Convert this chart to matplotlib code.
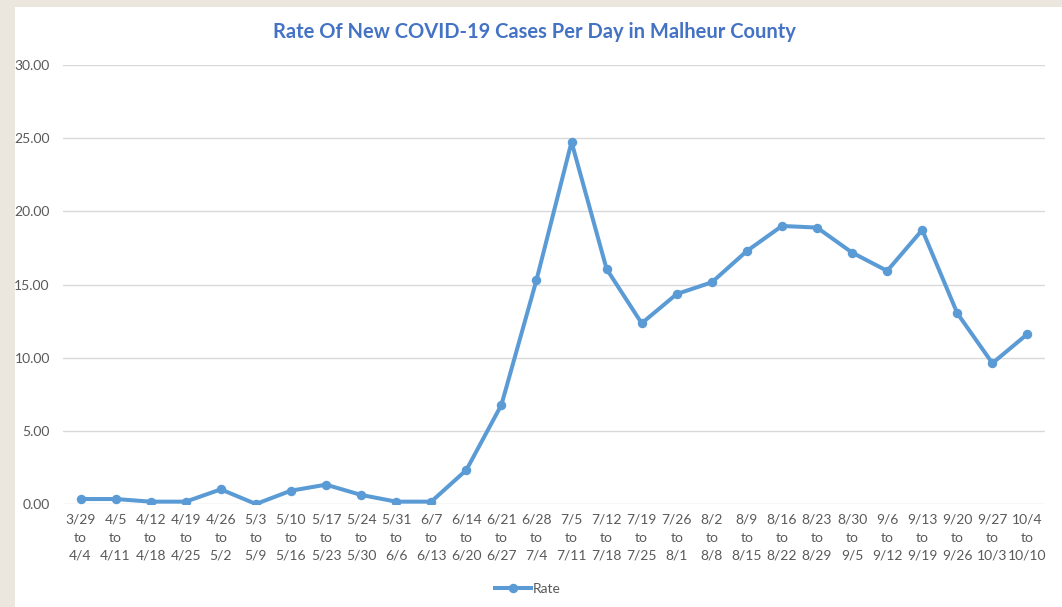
import matplotlib
matplotlib.use("Agg")
from matplotlib import pyplot as plt
from matplotlib.patches import Rectangle

week_start = ["3/29", "4/5", "4/12", "4/19", "4/26", "5/3", "5/10", "5/17", "5/24", "5/31",
              "6/7", "6/14", "6/21", "6/28", "7/5", "7/12", "7/19", "7/26", "8/2", "8/9",
              "8/16", "8/23", "8/30", "9/6", "9/13", "9/20", "9/27", "10/4"]
week_end = ["4/4", "4/11", "4/18", "4/25", "5/2", "5/9", "5/16", "5/23", "5/30", "6/6",
            "6/13", "6/20", "6/27", "7/4", "7/11", "7/18", "7/25", "8/1", "8/8", "8/15",
            "8/22", "8/29", "9/5", "9/12", "9/19", "9/26", "10/3", "10/10"]
rate = [0.34, 0.34, 0.16, 0.16, 1.00, 0.00, 0.91, 1.32, 0.62, 0.16,
        0.16, 2.32, 6.77, 15.30, 24.74, 16.06, 12.35, 14.35, 15.15, 17.29,
        19.00, 18.89, 17.18, 15.93, 18.73, 13.03, 9.62, 11.62]
y_ticks = [0, 5, 10, 15, 20, 25, 30]

LINE_COLOR = "#5B9BD5"
TEXT_GRAY = "#595959"
FONT = ["Lato", "DejaVu Sans"]

plt.rcParams["font.family"] = FONT

fig = plt.figure(figsize=(10.62, 6.07), dpi=100)
fig.patch.set_facecolor("#EBE7DE")

# white chart panel behind everything
bg = fig.add_axes([0, 0, 1, 1], zorder=0)
bg.add_patch(Rectangle((15 / 1062, 0), 1 - 15 / 1062, 1 - 7 / 607,
                       transform=bg.transAxes, facecolor="white", edgecolor="none"))
bg.axis("off")

ax = fig.add_axes([63 / 1062, 103 / 607, 982 / 1062, 439 / 607], zorder=2)
ax.set_facecolor("none")

x = list(range(len(rate)))
ax.plot(x, rate, color=LINE_COLOR, linewidth=2.9, marker="o", markersize=5.8,
        label="Rate", solid_joinstyle="round", zorder=3)

ax.set_xlim(-0.5, len(rate) - 0.5)
ax.set_ylim(0, 30)
ax.set_yticks(y_ticks)
ax.set_yticklabels([f"{v:.2f}" for v in y_ticks])
ax.set_xticks(x)
ax.set_xticklabels([f"{s}\nto\n{e}" for s, e in zip(week_start, week_end)], linespacing=1.6)

ax.grid(axis="y", color="#D9D9D9", linewidth=1)
ax.set_axisbelow(True)
for sp in ax.spines.values():
    sp.set_visible(False)
ax.tick_params(axis="both", length=0, colors=TEXT_GRAY, labelsize=10)
ax.tick_params(axis="y", pad=9.5)
ax.tick_params(axis="x", pad=7)

fig.text(534 / 1062, 1 - 32 / 607, "Rate Of New COVID-19 Cases Per Day in Malheur County",
         ha="center", va="center", fontsize=14.5, fontweight="bold", color="#4472C4", zorder=3)

fig.legend(loc="center", bbox_to_anchor=(528 / 1062, 1 - 589 / 607), frameon=False,
           fontsize=10, labelcolor=TEXT_GRAY, handlelength=2.6, handletextpad=0.1)

fig.savefig("out.png", dpi=100, facecolor=fig.get_facecolor())
